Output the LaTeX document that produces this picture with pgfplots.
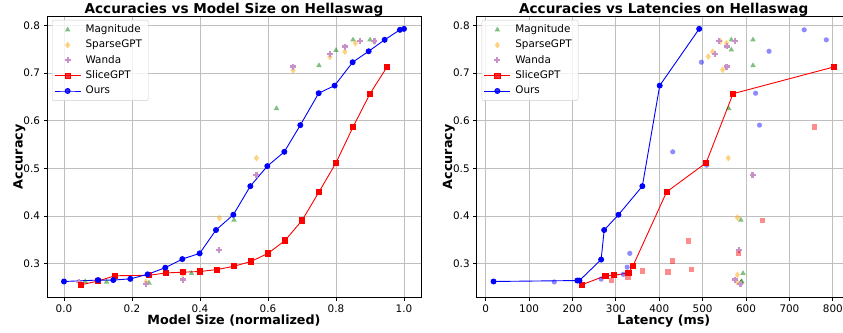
\documentclass[border=0pt]{standalone}
\usepackage{pgfplots}
\pgfplotsset{compat=1.18}
\usepackage{fontspec}
\setmainfont{DejaVu Sans}
\definecolor{mgreen}{RGB}{0,128,0}
\definecolor{morange}{RGB}{255,165,0}
\definecolor{mpurple}{RGB}{200,145,200}
\pgfplotsset{
  myaxis/.style={
    scale only axis, width=374pt, height=281.7pt,
    ymin=0.229, ymax=0.82,
    ytick={0.3,0.4,0.5,0.6,0.7,0.8},
    /pgf/number format/assume math mode=true,
    yticklabel style={/pgf/number format/fixed,/pgf/number format/precision=1,/pgf/number format/fixed zerofill},
    tick label style={font=\fontsize{10.4}{12}\selectfont},
    grid=major, major grid style={color=black!25, line width=0.9pt},
    tick align=outside, tick pos=left, major tick length=3.5pt,
    every tick/.style={black, line width=0.8pt},
    axis line style={line width=0.9pt},
    every axis title/.style={at={(axis description cs:0.5,1.0096)},anchor=base,font=\fontsize{13.6}{16}\selectfont\bfseries},
    every axis x label/.style={at={(axis description cs:0.5,-0.0969)},anchor=base,font=\fontsize{12.7}{15}\selectfont\bfseries},
    every axis y label/.style={at={(axis description cs:-0.0655,0.5)},anchor=base,rotate=90,font=\fontsize{12.7}{15}\selectfont\bfseries},
    legend cell align=left,
    legend image code/.code={\draw[mark repeat=2,mark phase=2,##1] plot coordinates {(0pt,0pt) (13pt,0pt) (26pt,0pt)};},
    legend style={at={(0.0134,0.986)}, anchor=north west, font=\fontsize{10.4}{12}\selectfont,
      draw=black!20, rounded corners=2pt, fill=white, fill opacity=0.8, text opacity=1,
      row sep=0pt, inner xsep=2pt, inner ysep=2pt,
      nodes={inner xsep=4.5pt, inner ysep=2.5pt, text height=8pt, text depth=2.3pt}},
  },
  magst/.style={only marks, color=mgreen, mark=triangle*, mark size=3.2pt, mark options={fill opacity=0.5, draw opacity=0}},
  sparsest/.style={only marks, color=morange, mark=diamond*, mark size=3.4pt, mark options={fill opacity=0.5, draw opacity=0}},
  wandast/.style={only marks, color=mpurple, mark=+, mark size=3pt, mark options={line width=2.2pt}},
  slicest/.style={red, line width=0.9pt, mark=square*, mark size=2.6pt, mark options={fill=red, draw=red}},
  oursst/.style={blue, line width=0.9pt, mark=*, mark size=2.5pt, mark options={fill=blue, draw=blue}},
  lslice/.style={only marks, color=red, mark=square*, mark size=2.6pt, mark options={fill opacity=0.45, draw opacity=0}},
  lours/.style={only marks, color=blue, mark=*, mark size=2.6pt, mark options={fill opacity=0.45, draw opacity=0}},
}
\begin{document}
\begin{tikzpicture}
\useasboundingbox (0,0) rectangle (843pt,332pt);
\begin{axis}[myaxis, at={(47pt,34.3pt)}, anchor=south west,
  xmin=-0.05, xmax=1.05,
  xtick={0,0.2,0.4,0.6,0.8,1.0},
  xticklabel style={/pgf/number format/fixed,/pgf/number format/precision=1,/pgf/number format/fixed zerofill},
  title={Accuracies vs Model Size on Hellaswag},
  xlabel={Model Size (normalized)}, ylabel={Accuracy}]
\addplot[magst] coordinates {(0.0625,0.263) (0.125,0.262) (0.25,0.260) (0.375,0.280) (0.5,0.392) (0.625,0.626) (0.75,0.716) (0.8,0.748) (0.85,0.770) (0.9,0.770)};
\addlegendentry{Magnitude}
\addplot[sparsest] coordinates {(0.241,0.262) (0.349,0.278) (0.457,0.396) (0.566,0.522) (0.674,0.706) (0.782,0.734) (0.826,0.745) (0.857,0.763) (0.913,0.766)};
\addlegendentry{SparseGPT}
\addplot[wandast] coordinates {(0.045,0.262) (0.241,0.257) (0.349,0.267) (0.457,0.329) (0.566,0.486) (0.674,0.714) (0.782,0.740) (0.826,0.756) (0.871,0.768) (0.913,0.767)};
\addlegendentry{Wanda}
\addplot[slicest] coordinates {(0.05,0.256) (0.1,0.264) (0.15,0.275) (0.25,0.276) (0.3,0.281) (0.35,0.2825) (0.4,0.284) (0.45,0.288) (0.5,0.295) (0.55,0.305) (0.6,0.322) (0.65,0.349) (0.7,0.391) (0.75,0.451) (0.8,0.512) (0.85,0.587) (0.9,0.657) (0.95,0.713)};
\addlegendentry{SliceGPT}
\addplot[oursst] coordinates {(0,0.263) (0.1,0.266) (0.145,0.266) (0.195,0.2685) (0.246,0.278) (0.298,0.292) (0.348,0.310) (0.399,0.322) (0.447,0.371) (0.498,0.403) (0.548,0.463) (0.598,0.505) (0.648,0.535) (0.695,0.591) (0.749,0.658) (0.796,0.674) (0.849,0.723) (0.896,0.746) (0.943,0.770) (0.988,0.791) (1.0,0.793)};
\addlegendentry{Ours}
\end{axis}
\begin{axis}[myaxis, at={(476.7pt,34.3pt)}, anchor=south west,
  xmin=-20.8, xmax=841.2,
  xtick={0,100,...,800},
  title={Accuracies vs Latencies on Hellaswag},
  xlabel={Latency (ms)}, ylabel={Accuracy}]
\addplot[magst] coordinates {(560,0.626) (566,0.749) (566,0.770) (616,0.716) (616,0.770) (588,0.392) (593,0.280) (589,0.262) (587,0.260) (590,0.263)};
\addlegendentry{Magnitude}
\addplot[sparsest] coordinates {(541,0.767) (555,0.763) (523,0.745) (513,0.735) (546,0.707) (559,0.522) (580,0.397) (580,0.277) (579,0.262)};
\addlegendentry{SparseGPT}
\addplot[wandast] coordinates {(537,0.768) (574,0.768) (557,0.756) (528,0.741) (555,0.714) (615,0.486) (583,0.329) (574,0.267) (587,0.257)};
\addlegendentry{Wanda}
\addplot[lslice, forget plot] coordinates {(289,0.265) (328,0.272) (361,0.285) (420,0.283) (430,0.306) (474,0.288) (467,0.348) (583,0.322) (637,0.391) (758,0.587)};
\addplot[lours, forget plot] coordinates {(158,0.262) (266,0.268) (317,0.278) (326,0.293) (332,0.322) (431,0.535) (509,0.507) (497,0.723) (622,0.658) (631,0.591) (653,0.746) (734,0.791) (785,0.770)};
\addplot[slicest] coordinates {(221,0.256) (276,0.275) (296,0.276) (329,0.281) (339,0.295) (417,0.451) (508,0.512) (570,0.657) (802,0.713)};
\addlegendentry{SliceGPT}
\addplot[oursst] coordinates {(18,0.263) (211,0.265) (216,0.265) (266,0.309) (273,0.371) (306,0.403) (361,0.463) (401,0.674) (492,0.793)};
\addlegendentry{Ours}
\end{axis}
\end{tikzpicture}
\end{document}
